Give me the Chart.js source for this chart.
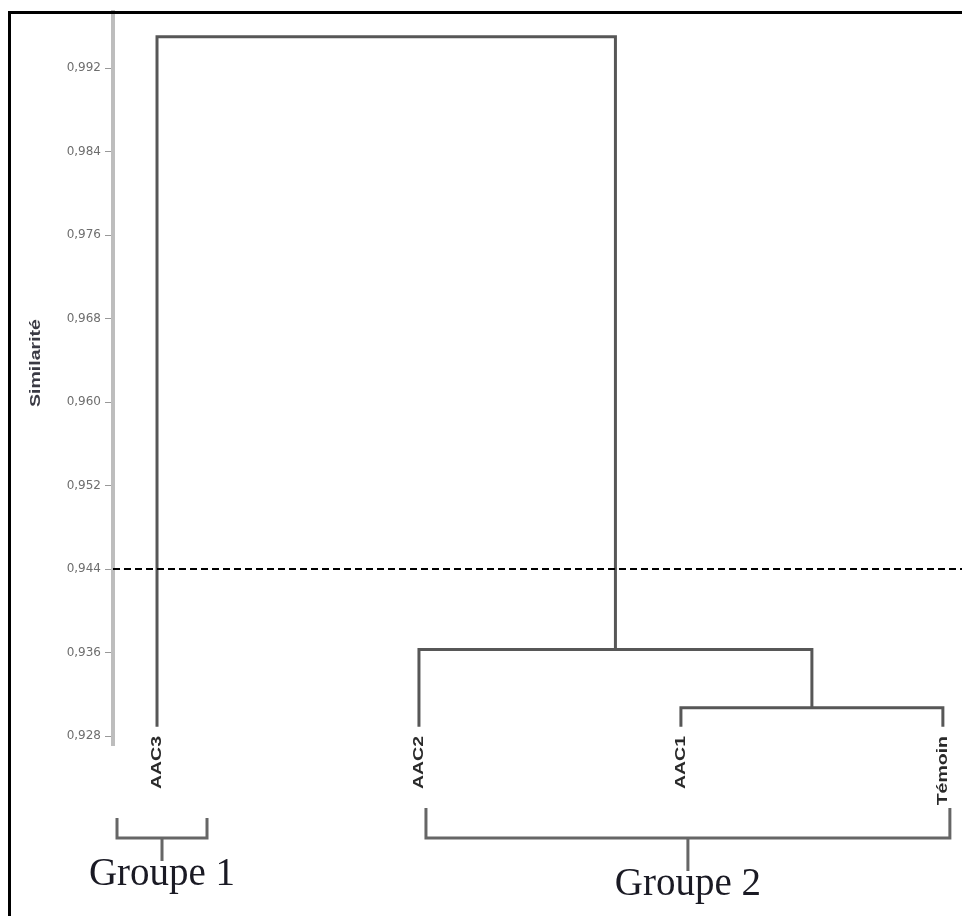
<!DOCTYPE html>
<html>
<head>
<meta charset="utf-8">
<script src="https://cdn.jsdelivr.net/npm/chart.js@4.4.1/dist/chart.umd.min.js"></script>
<style>
  html, body { margin: 0; padding: 0; background: #fff; }
  #wrap { width: 962px; height: 916px; position: relative; }
</style>
</head>
<body>
<div id="wrap"><canvas id="c" width="962" height="916"></canvas></div>
<script>
// ---- data ----
const leafLabels = ['AAC3', 'AAC2', 'AAC1', 'Témoin'];
const leafSimilarity = [0.9289, 0.9289, 0.9289, 0.9289];
// merges: [left node, right node, similarity]; nodes 0-3 are leaves, 4+ are merges in order
const mergeLeft = [2, 1, 0];
const mergeRight = [3, 4, 5];
const mergeSimilarity = [0.9307, 0.9363, 0.9950];
const threshold = 0.944;
const yTicks = [0.928, 0.936, 0.944, 0.952, 0.960, 0.968, 0.976, 0.984, 0.992];
const groupNames = ['Groupe 1', 'Groupe 2'];
const groupFirstLeaf = [0, 1];
const groupLastLeaf = [0, 3];

// ---- build link datasets ----
const nodeX = leafLabels.map((_, i) => i);
const nodeY = leafSimilarity.slice();
const linkSets = [];
for (let k = 0; k < mergeLeft.length; k++) {
  const a = mergeLeft[k], b = mergeRight[k], h = mergeSimilarity[k];
  linkSets.push({
    data: [
      { x: nodeX[a], y: nodeY[a] },
      { x: nodeX[a], y: h },
      { x: nodeX[b], y: h },
      { x: nodeX[b], y: nodeY[b] }
    ],
    borderColor: '#575757', borderWidth: 3, pointRadius: 0, fill: false,
    tension: 0, clip: false, borderJoinStyle: 'miter'
  });
  nodeX.push((nodeX[a] + nodeX[b]) / 2);
  nodeY.push(h);
}

const xMin = -0.168, xMax = 3.073;
const thresholdSet = {
  data: [{ x: xMin, y: threshold }, { x: xMax, y: threshold }],
  borderColor: '#000', borderWidth: 2, borderDash: [7, 4], pointRadius: 0,
  fill: false, clip: false
};

const decor = {
  id: 'decor',
  afterDraw(chart) {
    const ctx = chart.ctx;
    const xs = chart.scales.x;
    ctx.save();
    // frame
    ctx.fillStyle = '#000';
    ctx.fillRect(8, 11, 954, 3);
    ctx.fillRect(8, 11, 3, 905);
    // y title
    ctx.save();
    ctx.translate(36, 363);
    ctx.rotate(-Math.PI / 2);
    ctx.scale(1.3, 1);
    ctx.font = 'bold 15px "Liberation Sans", Arial, sans-serif';
    ctx.fillStyle = '#3a3a44';
    ctx.textAlign = 'center';
    ctx.textBaseline = 'middle';
    ctx.fillText('Similarité', 0, 0);
    ctx.restore();
    // leaf labels
    leafLabels.forEach((lab, i) => {
      const px = xs.getPixelForValue(i);
      ctx.save();
      ctx.translate(px, 736);
      ctx.rotate(-Math.PI / 2);
      ctx.scale(1.3, 1);
      ctx.font = 'bold 15px "Liberation Sans", Arial, sans-serif';
      ctx.fillStyle = '#2a2a2a';
      ctx.textAlign = 'right';
      ctx.textBaseline = 'middle';
      ctx.fillText(lab, 0, 0);
      ctx.restore();
    });
    // group brackets
    ctx.strokeStyle = '#666';
    ctx.lineWidth = 3;
    groupNames.forEach((name, g) => {
      const f = groupFirstLeaf[g], l = groupLastLeaf[g];
      let left, right, topY, textY;
      if (f === l) {
        const c = xs.getPixelForValue(f);
        left = c - 40; right = c + 50; topY = 818; textY = 885;
      } else {
        left = xs.getPixelForValue(f) + 7; right = xs.getPixelForValue(l) + 7; topY = 808; textY = 895;
      }
      const mid = (left + right) / 2;
      const barY = 838;
      ctx.beginPath();
      ctx.moveTo(left, topY); ctx.lineTo(left, barY); ctx.lineTo(right, barY); ctx.lineTo(right, topY);
      ctx.moveTo(mid, barY); ctx.lineTo(mid, textY - 24);
      ctx.stroke();
      ctx.font = '39px "Liberation Serif", "Times New Roman", serif';
      ctx.fillStyle = '#1a1a24';
      ctx.textAlign = 'center';
      ctx.textBaseline = 'alphabetic';
      ctx.fillText(name, mid, textY);
    });
    ctx.restore();
  }
};

new Chart(document.getElementById('c'), {
  type: 'line',
  data: { datasets: [thresholdSet, ...linkSets] },
  options: {
    responsive: false,
    animation: false,
    layout: { padding: { left: 0, right: 0, top: 12, bottom: 171 } },
    plugins: { legend: { display: false }, tooltip: { enabled: false } },
    scales: {
      x: { type: 'linear', min: xMin, max: xMax, display: false },
      y: {
        type: 'linear', min: 0.92714, max: 0.99737,
        afterFit(scale) { scale.width = 113; },
        afterBuildTicks(scale) { scale.ticks = yTicks.map(v => ({ value: v })); },
        ticks: {
          color: '#6e6e6e',
          padding: 4,
          font: { family: '"DejaVu Sans", sans-serif', size: 12 },
          callback: v => v.toFixed(3).replace('.', ',')
        },
        grid: { drawOnChartArea: false, drawTicks: true, tickLength: 8, color: '#999', lineWidth: 1 },
        border: { display: true, color: '#bdbdbd', width: 4 }
      }
    }
  },
  plugins: [decor]
});
</script>
</body>
</html>
